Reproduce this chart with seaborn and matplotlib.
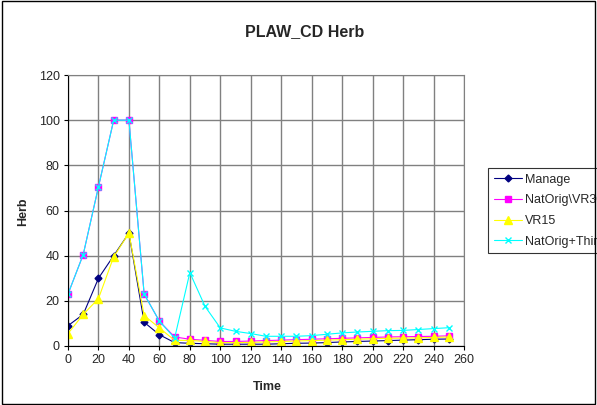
import numpy as np
import pandas as pd
import matplotlib.pyplot as plt
import seaborn as sns
from matplotlib.patches import Rectangle

sns.set_style("white")
plt.rcParams['font.family'] = ['Liberation Sans', 'DejaVu Sans']

time = list(range(0, 260, 10))
manage = [9, 14, 30, 40, 50, 10.5, 5, 1.5, 1.2, 1, 0.8, 0.8, 0.8, 0.8, 1, 1.2,
          1.3, 1.5, 1.8, 2, 2.2, 2.4, 2.6, 2.8, 3, 3.1]
natorig_vr30 = [23, 40.5, 70.5, 100, 100, 23, 11, 4, 3, 2.5, 2, 2, 2.2, 2.4, 2.6,
                2.8, 3, 3.2, 3.4, 3.6, 3.8, 4, 4.1, 4.2, 4.3, 4.5]
vr15 = [5.5, 14, 21, 39.5, 50, 13.5, 8, 2.5, 2.5, 2, 1.5, 1.5, 1.6, 1.8, 2,
        2.2, 2.4, 2.6, 2.8, 3, 3.2, 3.4, 3.5, 3.6, 3.8, 4]
natorig_thin = [23, 40.5, 70.5, 100, 100, 23, 11, 3.5, 32.5, 17.5, 8, 6.5, 5.5,
                4.3, 4.3, 4.3, 4.6, 5.2, 5.8, 6.2, 6.5, 6.8, 6.9, 7.3, 7.7, 8.1]
series_names = ["Manage", "NatOrig\\VR30", "VR15", "NatOrig+Thin"]
series_vals = [manage, natorig_vr30, vr15, natorig_thin]

df = pd.concat([pd.DataFrame({"Time": time, "Herb": v, "Series": n})
                for n, v in zip(series_names, series_vals)])

colors = {"Manage": "#000080", "NatOrig\\VR30": "#FF00FF",
          "VR15": "#FFFF00", "NatOrig+Thin": "#00FFFF"}
markers = {"Manage": "D", "NatOrig\\VR30": "s", "VR15": "^", "NatOrig+Thin": "x"}
msize = {"Manage": 3.5, "NatOrig\\VR30": 4.5, "VR15": 5.5, "NatOrig+Thin": 5}

fig = plt.figure(figsize=(5.97, 4.05), dpi=100)
ax = fig.add_axes([68/597, 1-346/405, (464-68)/597, (346-75)/405])

for n in series_names:
    sub = df[df["Series"] == n]
    sns.lineplot(data=sub, x="Time", y="Herb", ax=ax, color=colors[n],
                 marker=markers[n], markersize=msize[n], markeredgecolor=colors[n],
                 markeredgewidth=1, linewidth=0.8, label=n)

ax.set_xlim(0, 260)
ax.set_ylim(0, 120)
ax.set_xticks(range(0, 261, 20))
ax.set_yticks(range(0, 121, 20))
ax.grid(True, color="#808080", linewidth=1)
ax.set_axisbelow(True)
ax.tick_params(labelsize=9, length=3, direction="out", color="black", pad=3)
ax.tick_params(axis="both", which="both", bottom=True, left=True)
for s in ["top", "right"]:
    ax.spines[s].set_color("#808080")
for s in ["left", "bottom"]:
    ax.spines[s].set_color("black")
ax.set_xlabel("")
ax.set_ylabel("")
fig.text(267/597, 1-387/405, "Time", fontsize=9, fontweight="bold",
         ha="center", va="center")
fig.text(23/597, 1-212/405, "Herb", fontsize=9, fontweight="bold",
         ha="center", va="center", rotation=90)
fig.text(305/597, 1-32/405, "PLAW_CD Herb", fontsize=11.5, fontweight="bold",
         ha="center", va="center")

leg = ax.legend(loc="upper left", bbox_to_anchor=(488/597, 1-168/405),
                bbox_transform=fig.transFigure, frameon=True, fancybox=False,
                fontsize=9, borderpad=0.45, labelspacing=0.7, handlelength=2.3,
                handletextpad=0.2, borderaxespad=0, edgecolor="black")
leg.get_frame().set_linewidth(0.8)

fig.patches.append(Rectangle((0.003, 0.003), 0.994, 0.994, transform=fig.transFigure,
                             fill=False, edgecolor="black", linewidth=1))

fig.savefig("out.png", dpi=100)
